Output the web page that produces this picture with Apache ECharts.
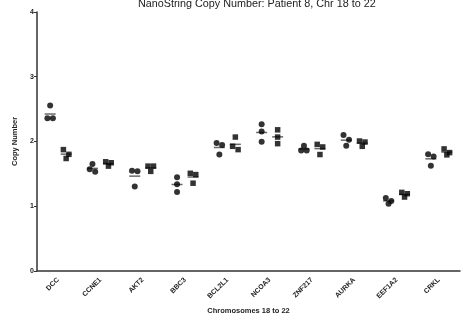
<!DOCTYPE html>
<html>
<head>
<meta charset="utf-8">
<script src="https://cdn.jsdelivr.net/npm/echarts@6/dist/echarts.min.js"></script>
<style>html,body{margin:0;padding:0;background:#fff}#c{width:462px;height:320px}</style>
</head>
<body>
<div id="c"></div>
<script>
const titleText = 'NanoString Copy Number: Patient 8, Chr 18 to 22';
const xName = 'Chromosomes 18 to 22';
const yName = 'Copy Number';
const categories = ['DCC','CCNE1','AKT2','BBC3','BCL2L1','NCOA3','ZNF217','AURKA','EEF1A2','CRKL'];
const yTicks = [0, 1, 2, 3, 4];
// circles (first replicate set)
const circleValues = [
  [2.556, 2.357, 2.357],
  [1.649, 1.568, 1.532],
  [1.548, 1.537, 1.304],
  [1.446, 1.339, 1.217],
  [1.976, 1.945, 1.797],
  [2.265, 2.153, 1.995],
  [1.934, 1.858, 1.858],
  [2.098, 2.026, 1.934],
  [1.125, 1.080, 1.038],
  [1.802, 1.766, 1.624]
];
// squares (second replicate set)
const squareValues = [
  [1.873, 1.800, 1.736],
  [1.685, 1.670, 1.618],
  [1.618, 1.618, 1.537],
  [1.507, 1.487, 1.354],
  [2.067, 1.924, 1.873],
  [2.179, 2.067, 1.965],
  [1.954, 1.914, 1.797],
  [2.006, 1.990, 1.924],
  [1.212, 1.191, 1.140],
  [1.884, 1.827, 1.792]
];

const FONT = 'Liberation Sans, Arial, sans-serif';
const GROUP_SHIFT = 8;     // px offset of each replicate set from the tick
const JIT = 2.75;          // px half-spread for overlapping points
const CLOSE = 0.075;       // value gap considered overlapping

function jitterOffsets(vals) {
  const idx = vals.map((v, i) => i).sort((a, b) => vals[b] - vals[a]);
  const offs = new Array(vals.length).fill(0);
  let chain = [idx[0]];
  const flush = () => {
    const n = chain.length;
    const pat = n === 1 ? [0] : n === 2 ? [-1, 1] : n === 3 ? [-1, 1, 0] : chain.map((_, k) => (k % 2 ? 1 : -1) * Math.ceil(k / 2));
    chain.forEach((id, k) => offs[id] = pat[k] * JIT);
  };
  for (let k = 1; k < idx.length; k++) {
    if (vals[idx[k - 1]] - vals[idx[k]] < CLOSE) chain.push(idx[k]);
    else { flush(); chain = [idx[k]]; }
  }
  flush();
  return offs;
}

function pointData(set, shift) {
  const out = [];
  set.forEach((vals, i) => {
    const offs = jitterOffsets(vals);
    vals.forEach((v, k) => out.push({ value: [i, v], symbolOffset: [shift + offs[k], 0] }));
  });
  return out;
}
function meanData(set, shift) {
  return set.map((vals, i) => ({
    value: [i, vals.reduce((a, b) => a + b, 0) / vals.length],
    symbolOffset: [shift, 0]
  }));
}

const chart = echarts.init(document.getElementById('c'), null, { renderer: 'canvas' });
chart.setOption({
  animation: false,
  backgroundColor: '#fff',
  title: {
    text: titleText, left: 133, top: -6,
    textStyle: { fontFamily: FONT, fontSize: 10.8, fontWeight: 'normal', color: '#222' }
  },
  grid: { left: 37, right: 2, top: 12, bottom: 46 },
  xAxis: {
    type: 'category', data: categories, boundaryGap: true,
    name: xName, nameLocation: 'middle', nameGap: 36,
    nameTextStyle: { fontFamily: FONT, fontSize: 7.5, fontWeight: 'bold', color: '#222' },
    axisLine: { lineStyle: { color: '#333', width: 1.5 } },
    axisTick: { alignWithLabel: true, length: 3, lineStyle: { color: '#333' } },
    axisLabel: { rotate: 45, fontFamily: FONT, fontSize: 7, fontWeight: 'bold', color: '#222', margin: 8 },
    splitLine: { show: false }
  },
  yAxis: {
    type: 'value', min: yTicks[0], max: yTicks[yTicks.length - 1], interval: 1,
    name: yName, nameLocation: 'middle', nameGap: 18,
    nameTextStyle: { fontFamily: FONT, fontSize: 7.5, fontWeight: 'bold', color: '#222' },
    axisLine: { show: true, lineStyle: { color: '#333', width: 1.5 } },
    axisTick: { show: true, length: 3, lineStyle: { color: '#333' } },
    axisLabel: { fontFamily: FONT, fontSize: 7, fontWeight: 'bold', color: '#222', margin: 3 },
    splitLine: { show: false }
  },
  series: [
    { type: 'scatter', symbol: 'circle', symbolSize: 6, itemStyle: { color: '#000' },
      data: pointData(circleValues, -GROUP_SHIFT), z: 3 },
    { type: 'scatter', symbol: 'rect', symbolSize: 5.5, itemStyle: { color: '#000' },
      data: pointData(squareValues, GROUP_SHIFT), z: 3 },
    { type: 'scatter', symbol: 'rect', symbolSize: [11, 1.5], itemStyle: { color: '#444' },
      data: meanData(circleValues, -GROUP_SHIFT), z: 2 },
    { type: 'scatter', symbol: 'rect', symbolSize: [11, 1.5], itemStyle: { color: '#444' },
      data: meanData(squareValues, GROUP_SHIFT), z: 2 }
  ]
});
</script>
</body>
</html>
